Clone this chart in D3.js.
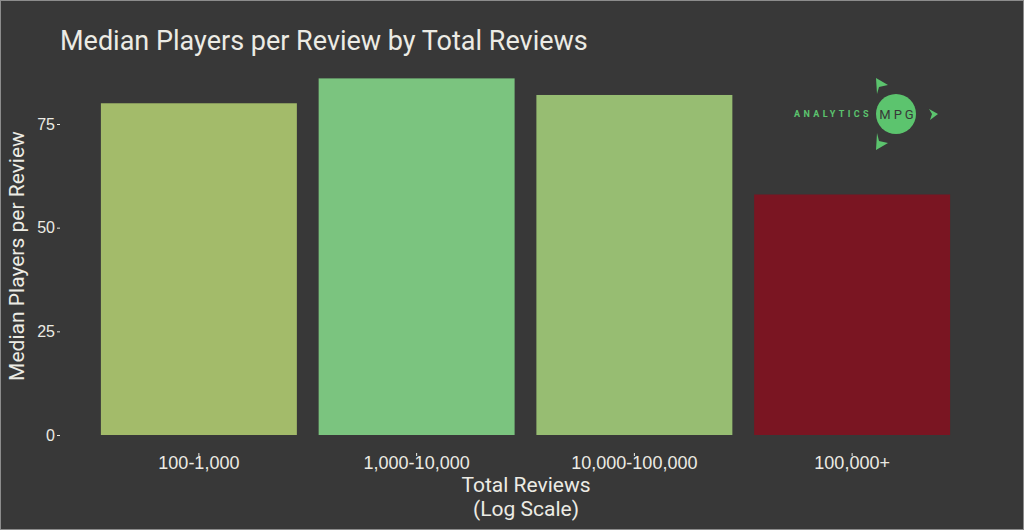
<!DOCTYPE html>
<html>
<head>
<meta charset="utf-8">
<script src="https://cdn.jsdelivr.net/npm/d3@7"></script>
<style>
  body { margin: 0; background: #383838; }
  svg { display: block; font-family: Roboto, "Open Sans", sans-serif; }
</style>
</head>
<body>
<div id="chart"></div>
<script>
// data
var categories = ["100-1,000", "1,000-10,000", "10,000-100,000", "100,000+"];
var medianPlayers = [80, 86, 82, 58];
var barColors = ["#a3bb6a", "#7bc47f", "#97bd72", "#7a1522"];
var yTicks = [0, 25, 50, 75];

var W = 1024, H = 530;
var textColor = "#ecebe4";

var svg = d3.select("#chart").append("svg")
  .attr("width", W)
  .attr("height", H);

// background + thin border
svg.append("rect")
  .attr("x", 0.5).attr("y", 0.5)
  .attr("width", W - 1).attr("height", H - 1)
  .attr("fill", "#383838")
  .attr("stroke", "#8c8c8c")
  .attr("stroke-width", 1);

// scales
var x = d3.scaleBand()
  .domain(categories)
  .range([90, 961])
  .paddingInner(0.1)
  .paddingOuter(0.05);

var y = d3.scaleLinear()
  .domain([0, 75])
  .range([435, 124]);

// bars
svg.append("g")
  .selectAll("rect")
  .data(categories)
  .enter()
  .append("rect")
    .attr("x", d => x(d))
    .attr("width", x.bandwidth())
    .attr("y", (d, i) => y(medianPlayers[i]))
    .attr("height", (d, i) => y(0) - y(medianPlayers[i]))
    .attr("fill", (d, i) => barColors[i]);

// y axis (labels + small ticks, no line)
var yAxis = svg.append("g")
  .attr("transform", "translate(60,0)")
  .call(d3.axisLeft(y).tickValues(yTicks).tickSize(3).tickPadding(2));
yAxis.select(".domain").remove();
yAxis.selectAll("line").attr("stroke", textColor);
yAxis.selectAll("text")
  .attr("fill", textColor)
  .style("font-size", "16px");

// x axis
var xAxis = svg.append("g")
  .attr("transform", "translate(0,453)")
  .call(d3.axisBottom(x).tickSize(3).tickPadding(0));
xAxis.select(".domain").remove();
xAxis.selectAll("line").attr("stroke", textColor);
xAxis.selectAll("text")
  .attr("fill", textColor)
  .style("font-size", "18px");

// titles
svg.append("text")
  .attr("x", 60)
  .attr("y", 50)
  .attr("fill", textColor)
  .style("font-size", "27px")
  .text("Median Players per Review by Total Reviews");

svg.append("text")
  .attr("transform", "translate(24," + 256 + ") rotate(-90)")
  .attr("text-anchor", "middle")
  .attr("fill", textColor)
  .style("font-size", "21px")
  .text("Median Players per Review");

svg.append("text")
  .attr("x", 526)
  .attr("y", 492)
  .attr("text-anchor", "middle")
  .attr("fill", textColor)
  .style("font-size", "21px")
  .text("Total Reviews");

svg.append("text")
  .attr("x", 526)
  .attr("y", 516)
  .attr("text-anchor", "middle")
  .attr("fill", textColor)
  .style("font-size", "21px")
  .text("(Log Scale)");

// logo
var logoGreen = "#5cc46e";
var logo = svg.append("g");
logo.append("text")
  .attr("x", 833)
  .attr("y", 117)
  .attr("text-anchor", "middle")
  .attr("fill", logoGreen)
  .style("font-size", "9px")
  .style("font-weight", "bold")
  .style("letter-spacing", "3.4px")
  .text("ANALYTICS");
logo.append("circle")
  .attr("cx", 896).attr("cy", 114).attr("r", 20)
  .attr("fill", logoGreen);
logo.append("text")
  .attr("x", 898)
  .attr("y", 119)
  .attr("text-anchor", "middle")
  .attr("fill", "#383838")
  .style("font-size", "13px")
  .style("letter-spacing", "3px")
  .text("MPG");
logo.append("path")
  .attr("d", "M876,78 L888,85 L879,87 L877,94 Z")
  .attr("fill", logoGreen);
logo.append("path")
  .attr("d", "M929,109 L938,114 L930,120 L932,114 Z")
  .attr("fill", logoGreen);
logo.append("path")
  .attr("d", "M877,133 L879,141 L888,143 L876,150 Z")
  .attr("fill", logoGreen);
</script>
</body>
</html>
